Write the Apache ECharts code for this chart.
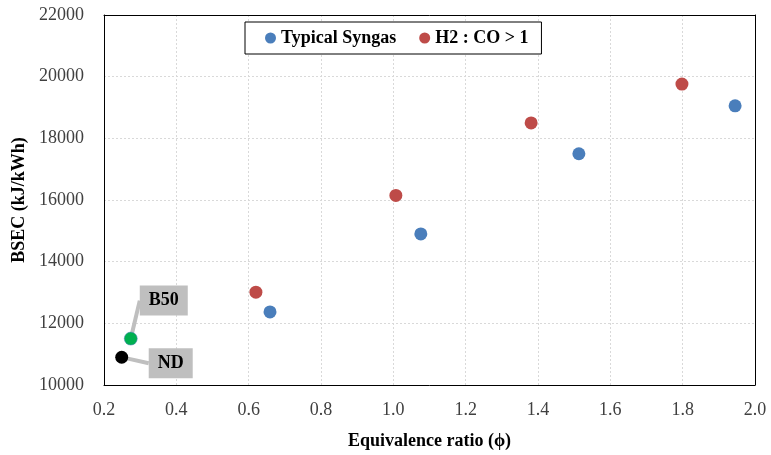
<!DOCTYPE html>
<html>
<head>
<meta charset="utf-8">
<script src="https://cdn.jsdelivr.net/npm/echarts@6/dist/echarts.min.js"></script>
<style>html,body{margin:0;padding:0;background:#fff}#c{width:771px;height:455px}</style>
</head>
<body>
<div id="c"></div>
<script>
const typicalSyngas = [[0.659, 12370], [1.076, 14900], [1.513, 17500], [1.945, 19055]];
const h2co = [[0.620, 13010], [1.007, 16150], [1.381, 18500], [1.798, 19760]];
const b50 = [[0.274, 11505]];
const nd = [[0.249, 10900]];
const seriesNames = ['Typical Syngas', 'H2 : CO > 1', 'B50', 'ND'];
const xTitle = 'Equivalence ratio (ϕ)';
const yTitle = 'BSEC (kJ/kWh)';

const font = 'Liberation Serif';
const chart = echarts.init(document.getElementById('c'), null, {renderer: 'canvas'});
const calloutLabel = (txt) => ({
  show: true, position: 'inside', formatter: txt,
  backgroundColor: '#bfbfbf', padding: [7, 9, 5, 9],
  fontFamily: font, fontWeight: 'bold', fontSize: 18, color: '#000'
});
const tickRich = {t: {fontFamily: font, fontSize: 18, color: '#404040'}};
const borderAxis = {show: true, lineStyle: {color: '#000', width: 1}};
chart.setOption({
  animation: false,
  textStyle: {fontFamily: font},
  grid: {left: 104, right: 16, top: 15, bottom: 69},
  legend: {
    data: [seriesNames[0], seriesNames[1]],
    left: 245, top: 22, icon: 'circle', itemWidth: 11, itemHeight: 11, itemGap: 23,
    padding: [7, 13, 7, 20], borderColor: '#000', borderWidth: 1, backgroundColor: '#fff',
    textStyle: {fontFamily: font, fontWeight: 'bold', fontSize: 18, color: '#000'}
  },
  xAxis: [{
    type: 'value', min: 0.2, max: 2.0, interval: 0.2,
    name: xTitle, nameLocation: 'middle', nameGap: 47,
    nameTextStyle: {fontFamily: font, fontWeight: 'bold', fontSize: 18, color: '#000'},
    axisLine: borderAxis,
    axisTick: {show: false},
    axisLabel: {fontFamily: font, fontSize: 18, color: '#404040', margin: 16,
      formatter: v => '{t|' + v.toFixed(1) + '}', rich: tickRich},
    splitLine: {show: true, lineStyle: {color: '#d9d9d9', type: [2, 2]}}
  }, {
    type: 'value', position: 'top', min: 0.2, max: 2.0, interval: 0.2,
    axisLine: borderAxis, axisTick: {show: false}, axisLabel: {show: false}, splitLine: {show: false}
  }],
  yAxis: [{
    type: 'value', min: 10000, max: 22000, interval: 2000,
    name: yTitle, nameLocation: 'middle', nameGap: 76,
    nameTextStyle: {fontFamily: font, fontWeight: 'bold', fontSize: 18, color: '#000'},
    axisLine: borderAxis,
    axisTick: {show: false},
    axisLabel: {fontFamily: font, fontSize: 18, color: '#404040', margin: 20,
      formatter: v => '{t|' + v + '}', rich: tickRich},
    splitLine: {show: true, lineStyle: {color: '#d9d9d9', type: [2, 2]}}
  }, {
    type: 'value', position: 'right', min: 10000, max: 22000, interval: 2000,
    axisLine: borderAxis, axisTick: {show: false}, axisLabel: {show: false}, splitLine: {show: false}
  }],
  series: [
    {name: seriesNames[0], type: 'scatter', data: typicalSyngas, symbolSize: 13, itemStyle: {color: '#4a7ebb', opacity: 1}},
    {name: seriesNames[1], type: 'scatter', data: h2co, symbolSize: 13, itemStyle: {color: '#be4b48', opacity: 1}},
    {name: seriesNames[2], type: 'scatter', data: b50, symbolSize: 13, z: 3,
     itemStyle: {color: '#00b050', borderColor: '#4a7ebb', borderWidth: 0.5, opacity: 1},
     label: calloutLabel('B50'), labelLayout: {dx: 33, dy: -38},
     labelLine: {show: true, lineStyle: {color: '#bfbfbf', width: 4}}},
    {name: seriesNames[3], type: 'scatter', data: nd, symbolSize: 13, z: 3,
     itemStyle: {color: '#000', opacity: 1},
     label: calloutLabel('ND'), labelLayout: {dx: 49, dy: 6},
     labelLine: {show: true, lineStyle: {color: '#bfbfbf', width: 4}}}
  ]
});
</script>
</body>
</html>
